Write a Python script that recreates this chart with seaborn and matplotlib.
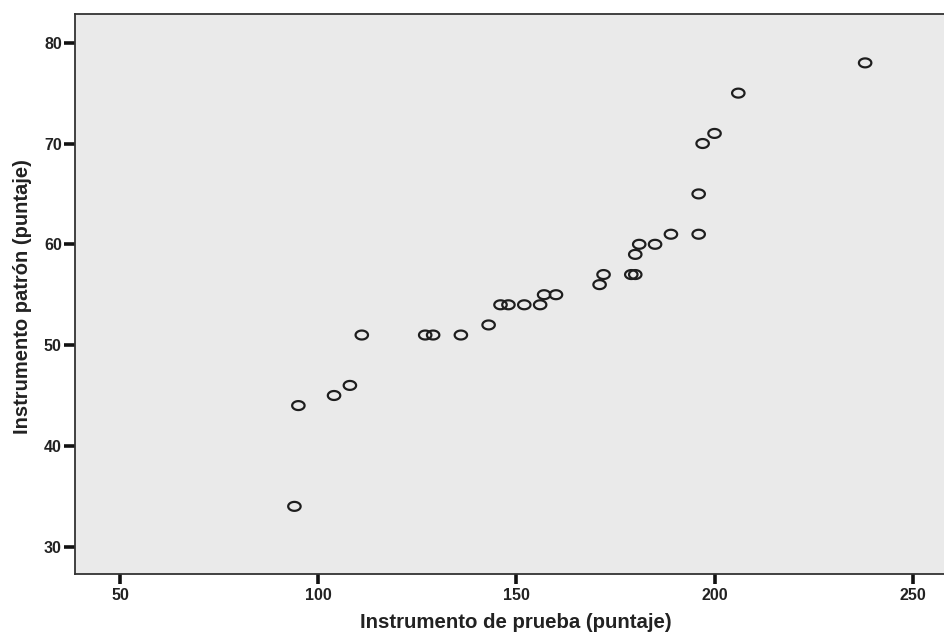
import numpy as np
import pandas as pd
import matplotlib
matplotlib.use("Agg")
import matplotlib.pyplot as plt
from matplotlib.path import Path
import seaborn as sns

# Data
prueba = [94, 95, 104, 108, 111, 127, 129, 136, 143, 146, 148, 152, 156, 157, 160,
          171, 172, 179, 180, 180, 181, 185, 189, 196, 196, 197, 200, 206, 238]
patron = [34, 44, 45, 46, 51, 51, 51, 51, 52, 54, 54, 54, 54, 55, 55,
          56, 57, 57, 57, 59, 60, 60, 61, 61, 65, 70, 71, 75, 78]
x_ticks = [50, 100, 150, 200, 250]
y_ticks = [30, 40, 50, 60, 70, 80]
x_label = "Instrumento de prueba (puntaje)"
y_label = "Instrumento patrón (puntaje)"

df = pd.DataFrame({"prueba": prueba, "patron": patron})

sns.set_theme(style="white")
plt.rcParams['font.family'] = ['Liberation Sans', 'DejaVu Sans']
plt.rcParams['font.weight'] = 'bold'

fig = plt.figure(figsize=(9.44, 6.33), dpi=100)
ax = fig.add_axes([75/944, 1 - 574/633, 1 - 75/944, (574 - 14)/633])
ax.set_facecolor('#EAEAEA')

t = np.linspace(0, 2*np.pi, 60)
ell = Path(np.column_stack([np.cos(t), 0.72*np.sin(t)]), closed=True)

sns.scatterplot(data=df, x="prueba", y="patron", ax=ax, marker=ell, s=80,
                facecolor='none', edgecolor='#1e1e1e', linewidth=1.6, zorder=3)

ax.set_xlim(38.64, 257.9)
ax.set_ylim(27.29, 82.85)
ax.set_xticks(x_ticks)
ax.set_yticks(y_ticks)
ax.set_xticklabels([str(v) for v in x_ticks], fontsize=11.5, fontweight='bold', color='#222222')
ax.set_yticklabels([str(v) for v in y_ticks], fontsize=11.5, fontweight='bold', color='#222222')
ax.tick_params(axis='x', direction='out', length=7, width=2.6, color='#111111', pad=3, bottom=True)
ax.tick_params(axis='y', direction='out', length=8, width=2.6, color='#111111', pad=1.5, left=True)

for side in ['left', 'top', 'bottom']:
    ax.spines[side].set_visible(True)
    ax.spines[side].set_color('#333333')
    ax.spines[side].set_linewidth(1.3)
ax.spines['right'].set_visible(False)

ax.set_xlabel(x_label, fontsize=14.7, fontweight='bold', color='#222222')
ax.set_ylabel(y_label, fontsize=14.5, fontweight='bold', color='#222222')
ax.xaxis.set_label_coords((516 - 75)/(944 - 75), (574 - 622)/560, transform=ax.transAxes)
ax.yaxis.set_label_coords((23 - 75)/(944 - 75), (574 - 297)/560, transform=ax.transAxes)
ax.xaxis.label.set_va('center')
ax.yaxis.label.set_va('center')

fig.savefig("out.png", dpi=100)
